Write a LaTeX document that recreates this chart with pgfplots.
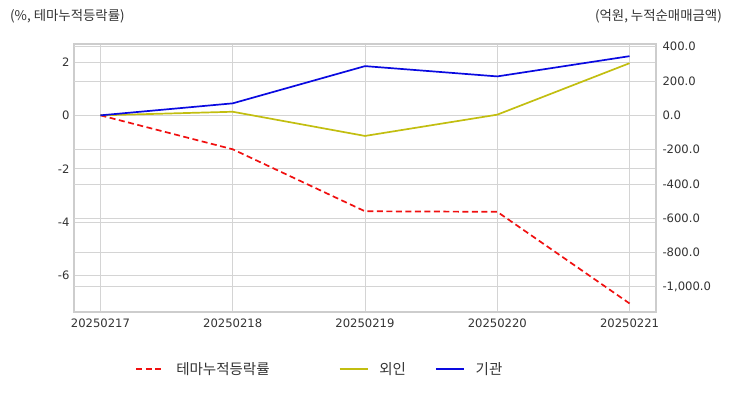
\documentclass[border=0pt]{standalone}
\usepackage{pgfplots}
\pgfplotsset{compat=1.18}
\usepackage{fontspec}
\setmainfont{Noto Sans CJK KR}
\newfontfamily\numfont{DejaVu Sans}
\definecolor{gridc}{HTML}{D4D4D4}
\definecolor{framec}{HTML}{CDCDCD}
\definecolor{tickc}{HTML}{333333}
\definecolor{redc}{HTML}{F01010}
\definecolor{yelc}{HTML}{C2BE10}
\definecolor{bluc}{HTML}{0A0AE0}
\begin{document}
\begin{tikzpicture}
\pgfplotsset{
  common/.style={
    at={(74pt,-312pt)}, anchor=south west, scale only axis,
    width=582pt, height=268pt,
    xmin=-0.2, xmax=4.2,
    tick style={draw=none},
    ticklabel style={font=\numfont\fontsize{11.6}{13}\selectfont, text=tickc},
    /pgf/number format/assume math mode=true,
  }
}
\begin{axis}[common,
  ymin=-7.36, ymax=2.67,
  xtick={0,1,2,3,4},
  xticklabels={20250217,20250218,20250219,20250220,20250221},
  ytick={-6,-4,-2,0,2},
  extra y ticks={2.568,1.284,-1.284,-2.568,-3.852,-5.136,-6.42},
  extra y tick labels={},
  extra y tick style={grid=major},
  xmajorgrids, ymajorgrids,
  major grid style={gridc, line width=0.8pt},
  axis line style={draw=framec, line width=1.6pt},
  xticklabel style={yshift=-3pt},
  yticklabel style={xshift=-1pt},
]
\addplot[redc, line width=1.7pt, dash pattern=on 6pt off 3.5pt] coordinates {
  (0,0) (1,-1.27) (2,-3.59) (3,-3.61) (4,-7.04)};
\end{axis}
\begin{axis}[common,
  ymin=-1146.4, ymax=415.9,
  axis x line=none,
  axis y line*=right,
  axis line style={draw=none},
  ytick={-1000,-800,-600,-400,-200,0,200,400},
  yticklabel style={xshift=3pt,
    /pgf/number format/.cd, fixed, fixed zerofill, precision=1, 1000 sep={,}},
  legend style={at={(0.4227,-0.213)}, anchor=center, draw=none, fill=none,
    font=\fontsize{14.5}{16}\selectfont, text=tickc,
    /tikz/every odd column/.append style={column sep=9pt},
    /tikz/every even column/.append style={column sep=27pt}},
  legend columns=-1,
  legend image code/.code={\draw[#1] (0pt,0pt) -- (28pt,0pt);},
]
\addlegendimage{redc, line width=1.7pt, dash pattern=on 6pt off 3.5pt}
\addlegendentry{테마누적등락률\rule{40pt}{0pt}}
\addplot[yelc, line width=1.7pt] coordinates {
  (0,0) (1,21) (2,-120) (3,4) (4,304)};
\addlegendentry{외인}
\addplot[bluc, line width=1.7pt] coordinates {
  (0,0) (1,70) (2,287) (3,227) (4,345)};
\addlegendentry{기관}
\end{axis}
\node[anchor=west, font=\fontsize{13.4}{15}\selectfont, text=tickc, inner sep=0pt] at (10pt,-16pt) {(\%, 테마누적등락률)};
\node[anchor=east, font=\fontsize{13.4}{15}\selectfont, text=tickc, inner sep=0pt] at (722pt,-16pt) {(억원, 누적순매매금액)};
\pgfresetboundingbox
\path (0pt,0pt) rectangle (732pt,-392pt);
\end{tikzpicture}
\end{document}
